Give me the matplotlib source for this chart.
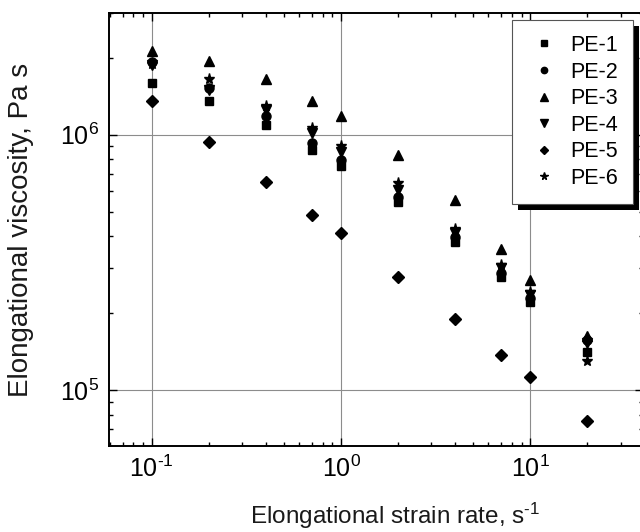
import matplotlib
matplotlib.use("Agg")
import matplotlib.pyplot as plt
import matplotlib.patheffects as pe
from matplotlib.ticker import FuncFormatter, LogLocator
import numpy as np

# strain rates, s^-1
rates = [0.1, 0.2, 0.4, 0.7, 1, 2, 4, 7, 10, 20]

# elongational viscosity, Pa s
pe1 = [1.60e6, 1.36e6, 1.09e6, 0.873e6, 0.756e6, 0.546e6, 0.380e6, 0.277e6, 0.221e6, 0.141e6]
pe2 = [1.93e6, 1.53e6, 1.18e6, 0.930e6, 0.798e6, 0.571e6, 0.398e6, 0.288e6, 0.230e6, 0.157e6]
pe3 = [2.13e6, 1.95e6, 1.66e6, 1.36e6, 1.18e6, 0.835e6, 0.556e6, 0.357e6, 0.270e6, 0.163e6]
pe4 = [1.87e6, 1.50e6, 1.25e6, 1.02e6, 0.858e6, 0.609e6, 0.413e6, 0.301e6, 0.236e6, 0.153e6]
pe5 = [1.35e6, 0.94e6, 0.654e6, 0.485e6, 0.413e6, 0.277e6, 0.190e6, 0.137e6, 0.1125e6, 0.0755e6]
pe6 = [1.90e6, 1.66e6, 1.30e6, 1.065e6, 0.906e6, 0.648e6, 0.428e6, 0.309e6, 0.242e6, 0.130e6]

labels = ["PE-1", "PE-2", "PE-3", "PE-4", "PE-5", "PE-6"]
series = [pe1, pe2, pe3, pe4, pe5, pe6]
markers = ["s", "o", "^", "v", "D", "*"]
sizes = [6, 6.5, 7.5, 7.5, 6, 8]

plt.rcParams["font.family"] = ["Liberation Sans", "DejaVu Sans"]
plt.rcParams["mathtext.fontset"] = "custom"
plt.rcParams["mathtext.rm"] = "Liberation Sans"
plt.rcParams["mathtext.it"] = "Liberation Sans"
plt.rcParams["mathtext.bf"] = "Liberation Sans"


def pow10(v, pos):
    e = int(round(np.log10(v)))
    if e < 0:
        return r"$10^{\text{-}%d}$" % (-e)
    return r"$10^{%d}$" % e


fig = plt.figure(figsize=(6.4, 5.32), dpi=100)
ax = fig.add_axes([109 / 640, 1 - 446 / 532, 534 / 640, 433 / 532])

for y, lab, m, ms in zip(series, labels, markers, sizes):
    ax.plot(rates, y, linestyle="none", marker=m, markersize=ms,
            color="black", label=lab)

ax.set_xscale("log")
ax.set_yscale("log")
ax.set_xlim(0.0594, 39.3)
ax.set_ylim(6.03e4, 3.0e6)
ax.xaxis.set_major_locator(LogLocator(base=10))
ax.xaxis.set_major_formatter(FuncFormatter(pow10))
ax.yaxis.set_major_formatter(FuncFormatter(pow10))

ax.grid(True, which="major", color="#8c8c8c", linewidth=0.8)
ax.set_axisbelow(True)

ax.tick_params(which="both", direction="in", top=True, right=True,
               labelsize=18, colors="black")
ax.tick_params(which="major", length=5.5, width=1, pad=7)
ax.tick_params(which="minor", length=3, width=1)
for s in ax.spines.values():
    s.set_linewidth(1.4)

ax.set_xlabel(r"Elongational strain rate, s$^{\text{-}1}$", fontsize=17.5,
              color="#1a1a1a")
ax.set_ylabel("Elongational viscosity, Pa s", fontsize=20, color="#1a1a1a")
ax.xaxis.set_label_coords(0.536, -0.127)
ax.yaxis.set_label_coords(-0.140, 0.5)

leg = ax.legend(loc="upper right", bbox_to_anchor=(0.981, 0.984),
                fontsize=15.5, markerscale=0.7, frameon=True, fancybox=False,
                framealpha=1, borderaxespad=0, labelspacing=0.26,
                handletextpad=0.4, borderpad=0.7, handlelength=1.6)
frame = leg.get_frame()
frame.set_facecolor("white")
frame.set_edgecolor("#555555")
frame.set_linewidth(0.8)
frame.set_path_effects([
    pe.SimplePatchShadow(offset=(4.3, -4.3), shadow_rgbFace="black", alpha=1),
    pe.Normal(),
])

fig.savefig("out.png", dpi=100)
